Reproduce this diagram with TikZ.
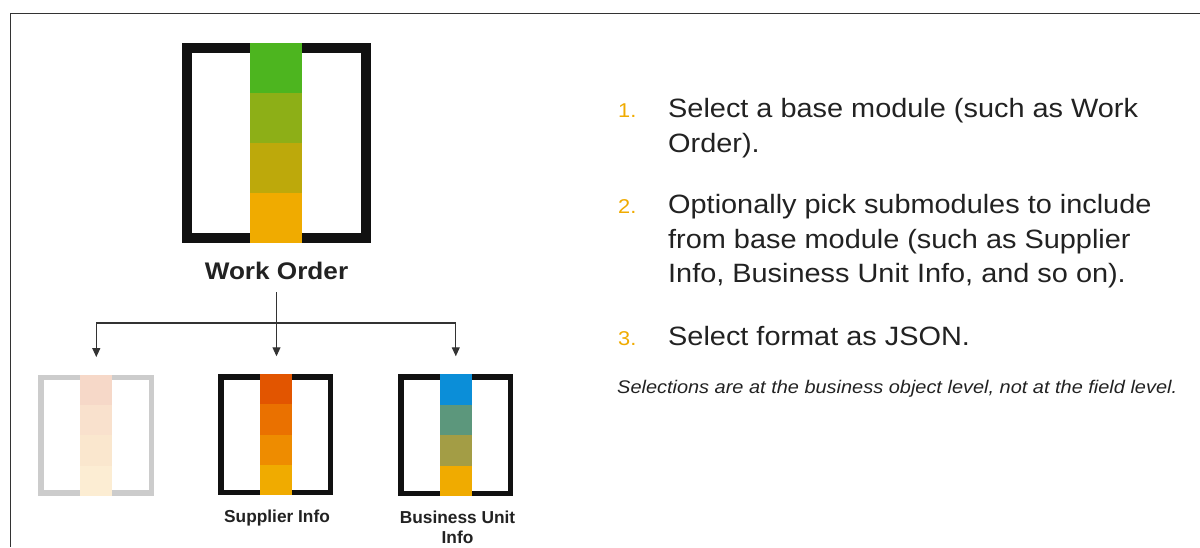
\documentclass[tikz,border=0pt]{standalone}
\usepackage{fontspec}
\setmainfont{Liberation Sans}
\newfontfamily\wsans[FakeStretch=1.09]{Liberation Sans}
\usetikzlibrary{arrows.meta}
\definecolor{g1}{HTML}{4DB51F}
\definecolor{g2}{HTML}{8DAF17}
\definecolor{g3}{HTML}{BDA90B}
\definecolor{g4}{HTML}{F0AB00}
\definecolor{s1}{HTML}{E25500}
\definecolor{s2}{HTML}{EA7100}
\definecolor{s3}{HTML}{EE8C00}
\definecolor{s4}{HTML}{F0AB00}
\definecolor{u1}{HTML}{0B8ED8}
\definecolor{u2}{HTML}{5C977C}
\definecolor{u3}{HTML}{A39D45}
\definecolor{u4}{HTML}{F0AB00}
\definecolor{f1}{HTML}{F6D8C8}
\definecolor{f2}{HTML}{F9E1CD}
\definecolor{f3}{HTML}{FAE7CE}
\definecolor{f4}{HTML}{FCEDD3}
\definecolor{fadeb}{HTML}{CCCCCC}
\definecolor{boxb}{HTML}{111111}
\definecolor{linec}{HTML}{333333}
\definecolor{framec}{HTML}{333333}
\definecolor{textc}{HTML}{222222}
\definecolor{numc}{HTML}{F0AB00}
\newcommand\modulebox[8]{%
  \node[draw=#7, line width=#5pt, minimum width={#3-#5}, minimum height={#4-#5}, inner sep=0pt, outer sep=0pt] (#1) at #2 {};
  \begin{scope}[shift={(#1.center)}]
    \foreach \c [count=\i] in {#8} {\fill[\c] ({-#6/2},{-#4/2+(\i-1)*#4/4}) rectangle ({#6/2},{-#4/2+\i*#4/4});}
  \end{scope}
}
\tikzset{
  conn/.style={draw=linec, line width=1.1pt},
  arr/.style={conn, -{Triangle[width=8pt,length=9pt]}},
  txt/.style={anchor=base west, inner sep=0pt, text=textc, font=\wsans\fontsize{26.5}{32}\selectfont},
  num/.style={anchor=base west, inner sep=0pt, text=numc, font=\wsans\fontsize{20}{24}\selectfont},
  note/.style={anchor=base west, inner sep=0pt, text=textc, font=\wsans\itshape\fontsize{18.3}{22}\selectfont},
  lab/.style={anchor=base, inner sep=0pt, text=textc, font=\bfseries\fontsize{17.3}{20}\selectfont},
}
\begin{document}
\begin{tikzpicture}[x=1pt,y=-1pt]
\useasboundingbox (0,0) rectangle (1200,547);
\fill[white] (0,0) rectangle (1200,547);
\draw[line width=1.5pt, framec] (1200,13.5) -- (10.5,13.5) -- (10.5,547);

% main module
\modulebox{wo}{(276.2,143)}{189}{199.4}{10}{52.3}{boxb}{g1,g2,g3,g4}
\node[anchor=base, inner sep=0pt, text=textc, font=\wsans\bfseries\fontsize{24}{28}\selectfont] (wol) at (276.5,279) {Work Order};

% submodules
\modulebox{b1}{(96.3,435.3)}{116}{121}{5.5}{31.7}{fadeb}{f1,f2,f3,f4}
\modulebox{b2}{(275.8,434.5)}{115}{121}{5.5}{31.7}{boxb}{s1,s2,s3,s4}
\modulebox{b3}{(455.8,435)}{115}{122}{5.5}{32.4}{boxb}{u1,u2,u3,u4}

\node[lab] (l2) at (277,522) {Supplier Info};
\node[lab] (l3a) at (457.5,523) {Business Unit};
\node[lab] (l3b) at (457.5,543) {Info};

% connectors
\coordinate (j) at (277,323);
\draw[conn] (b1.north |- j) -- (b3.north |- j);
\draw[arr, shorten <=13pt, shorten >=20.5pt] (wol.south) -- (wol.south |- b2.north);
\draw[arr, shorten >=20.5pt] (b1.north |- j) -- (b1.north);
\draw[arr, shorten >=20.5pt] (b3.north |- j) -- (b3.north);

% list
\node[num] (n1) at (618,117) {1.};
\node[txt] (t1a) at (668,117) {Select a base module (such as Work};
\node[txt] (t1b) at (668,152) {Order).};
\node[num] (n2) at (618,213) {2.};
\node[txt] (t2a) at (668,213) {Optionally pick submodules to include};
\node[txt] (t2b) at (668,248) {from base module (such as Supplier};
\node[txt] (t2c) at (668,282.5) {Info, Business Unit Info, and so on).};
\node[num] (n3) at (618,345) {3.};
\node[txt] (t3a) at (668,345) {Select format as JSON.};
\node[note] (nt) at (617,393) {Selections are at the business object level, not at the field level.};
\end{tikzpicture}
\end{document}
